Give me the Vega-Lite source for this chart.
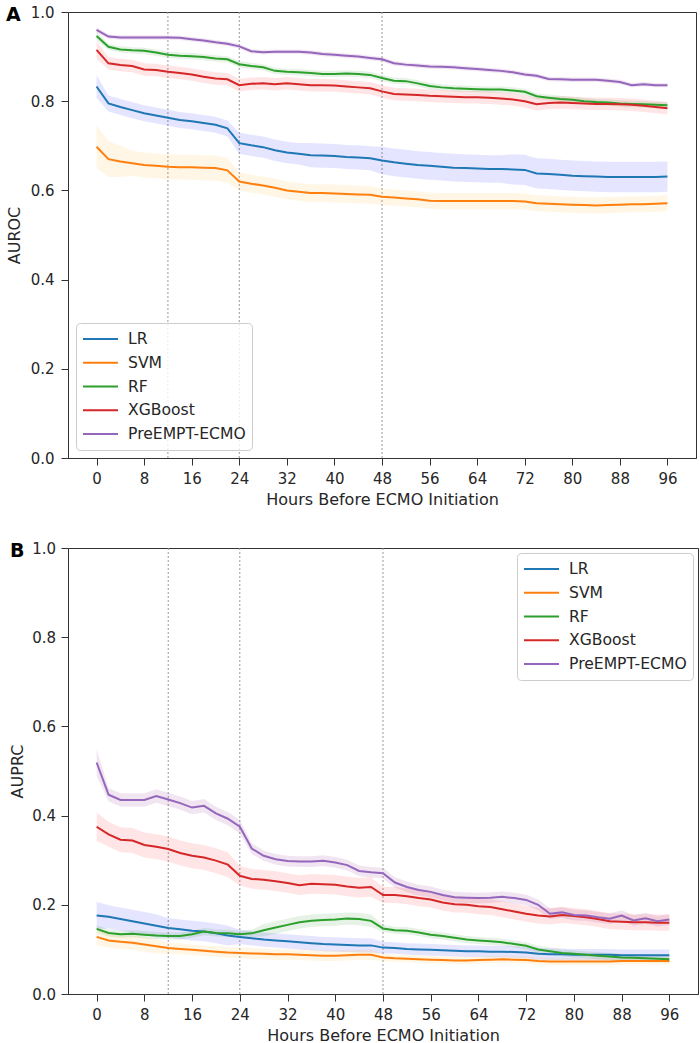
{
"$schema":"https://vega.github.io/schema/vega-lite/v6.json",
"padding":{"left":5,"top":4,"right":3,"bottom":0},
"config":{
"font":"DejaVu Sans",
"view":{"stroke":"#333333","strokeWidth":1},
"axis":{"grid":false,"domainColor":"#333333","tickColor":"#333333","tickSize":7,"tickWidth":1,"labelFontSize":15,"labelColor":"#262626","labelPadding":6,"titleFontSize":16,"titleFontWeight":"normal","titleColor":"#262626","titlePadding":5},
"legend":{"symbolType":"stroke","symbolSize":1225,"symbolStrokeWidth":2,"clipHeight":20,"labelFontSize":15.6,"labelColor":"#262626","labelOffset":9,"padding":6,"rowPadding":3.75,"cornerRadius":4,"fillColor":"rgba(255,255,255,0.8)","strokeColor":"#cccccc"}
},
"datasets":{
"A":[
{"m":"LR","h":0,"v":0.833,"e":0.025},{"m":"LR","h":2,"v":0.795,"e":0.018},{"m":"LR","h":4,"v":0.787,"e":0.018},{"m":"LR","h":6,"v":0.780,"e":0.018},{"m":"LR","h":8,"v":0.773,"e":0.018},{"m":"LR","h":10,"v":0.768,"e":0.018},{"m":"LR","h":12,"v":0.763,"e":0.018},{"m":"LR","h":14,"v":0.758,"e":0.018},{"m":"LR","h":16,"v":0.755,"e":0.018},{"m":"LR","h":18,"v":0.751,"e":0.018},{"m":"LR","h":20,"v":0.747,"e":0.018},{"m":"LR","h":22,"v":0.739,"e":0.018},{"m":"LR","h":24,"v":0.706,"e":0.024},{"m":"LR","h":26,"v":0.701,"e":0.024},{"m":"LR","h":28,"v":0.697,"e":0.024},{"m":"LR","h":30,"v":0.690,"e":0.024},{"m":"LR","h":32,"v":0.685,"e":0.024},{"m":"LR","h":34,"v":0.682,"e":0.024},{"m":"LR","h":36,"v":0.679,"e":0.027},{"m":"LR","h":38,"v":0.678,"e":0.027},{"m":"LR","h":40,"v":0.677,"e":0.027},{"m":"LR","h":42,"v":0.675,"e":0.027},{"m":"LR","h":44,"v":0.674,"e":0.027},{"m":"LR","h":46,"v":0.672,"e":0.027},{"m":"LR","h":48,"v":0.667,"e":0.031},{"m":"LR","h":50,"v":0.663,"e":0.031},{"m":"LR","h":52,"v":0.660,"e":0.031},{"m":"LR","h":54,"v":0.657,"e":0.031},{"m":"LR","h":56,"v":0.655,"e":0.031},{"m":"LR","h":58,"v":0.653,"e":0.031},{"m":"LR","h":60,"v":0.651,"e":0.031},{"m":"LR","h":62,"v":0.650,"e":0.031},{"m":"LR","h":64,"v":0.649,"e":0.031},{"m":"LR","h":66,"v":0.648,"e":0.031},{"m":"LR","h":68,"v":0.648,"e":0.031},{"m":"LR","h":70,"v":0.647,"e":0.034},{"m":"LR","h":72,"v":0.646,"e":0.034},{"m":"LR","h":74,"v":0.638,"e":0.034},{"m":"LR","h":76,"v":0.637,"e":0.034},{"m":"LR","h":78,"v":0.635,"e":0.034},{"m":"LR","h":80,"v":0.633,"e":0.034},{"m":"LR","h":82,"v":0.632,"e":0.034},{"m":"LR","h":84,"v":0.631,"e":0.034},{"m":"LR","h":86,"v":0.630,"e":0.034},{"m":"LR","h":88,"v":0.630,"e":0.034},{"m":"LR","h":90,"v":0.630,"e":0.034},{"m":"LR","h":92,"v":0.630,"e":0.034},{"m":"LR","h":94,"v":0.630,"e":0.034},{"m":"LR","h":96,"v":0.631,"e":0.034},
{"m":"SVM","h":0,"v":0.698,"e":0.048},{"m":"SVM","h":2,"v":0.670,"e":0.040},{"m":"SVM","h":4,"v":0.665,"e":0.035},{"m":"SVM","h":6,"v":0.661,"e":0.028},{"m":"SVM","h":8,"v":0.657,"e":0.028},{"m":"SVM","h":10,"v":0.655,"e":0.028},{"m":"SVM","h":12,"v":0.653,"e":0.028},{"m":"SVM","h":14,"v":0.652,"e":0.028},{"m":"SVM","h":16,"v":0.652,"e":0.028},{"m":"SVM","h":18,"v":0.651,"e":0.028},{"m":"SVM","h":20,"v":0.650,"e":0.028},{"m":"SVM","h":22,"v":0.645,"e":0.028},{"m":"SVM","h":24,"v":0.620,"e":0.020},{"m":"SVM","h":26,"v":0.615,"e":0.020},{"m":"SVM","h":28,"v":0.611,"e":0.020},{"m":"SVM","h":30,"v":0.606,"e":0.020},{"m":"SVM","h":32,"v":0.600,"e":0.020},{"m":"SVM","h":34,"v":0.597,"e":0.020},{"m":"SVM","h":36,"v":0.594,"e":0.020},{"m":"SVM","h":38,"v":0.594,"e":0.020},{"m":"SVM","h":40,"v":0.593,"e":0.020},{"m":"SVM","h":42,"v":0.592,"e":0.020},{"m":"SVM","h":44,"v":0.591,"e":0.020},{"m":"SVM","h":46,"v":0.590,"e":0.020},{"m":"SVM","h":48,"v":0.586,"e":0.018},{"m":"SVM","h":50,"v":0.584,"e":0.018},{"m":"SVM","h":52,"v":0.582,"e":0.018},{"m":"SVM","h":54,"v":0.580,"e":0.018},{"m":"SVM","h":56,"v":0.577,"e":0.018},{"m":"SVM","h":58,"v":0.576,"e":0.018},{"m":"SVM","h":60,"v":0.576,"e":0.018},{"m":"SVM","h":62,"v":0.576,"e":0.018},{"m":"SVM","h":64,"v":0.576,"e":0.018},{"m":"SVM","h":66,"v":0.576,"e":0.018},{"m":"SVM","h":68,"v":0.576,"e":0.018},{"m":"SVM","h":70,"v":0.576,"e":0.018},{"m":"SVM","h":72,"v":0.575,"e":0.018},{"m":"SVM","h":74,"v":0.571,"e":0.018},{"m":"SVM","h":76,"v":0.570,"e":0.018},{"m":"SVM","h":78,"v":0.569,"e":0.018},{"m":"SVM","h":80,"v":0.568,"e":0.018},{"m":"SVM","h":82,"v":0.567,"e":0.018},{"m":"SVM","h":84,"v":0.566,"e":0.018},{"m":"SVM","h":86,"v":0.567,"e":0.018},{"m":"SVM","h":88,"v":0.568,"e":0.018},{"m":"SVM","h":90,"v":0.569,"e":0.018},{"m":"SVM","h":92,"v":0.569,"e":0.018},{"m":"SVM","h":94,"v":0.570,"e":0.018},{"m":"SVM","h":96,"v":0.571,"e":0.018},
{"m":"RF","h":0,"v":0.946,"e":0.010},{"m":"RF","h":2,"v":0.922,"e":0.007},{"m":"RF","h":4,"v":0.916,"e":0.007},{"m":"RF","h":6,"v":0.914,"e":0.007},{"m":"RF","h":8,"v":0.913,"e":0.007},{"m":"RF","h":10,"v":0.909,"e":0.007},{"m":"RF","h":12,"v":0.904,"e":0.007},{"m":"RF","h":14,"v":0.902,"e":0.007},{"m":"RF","h":16,"v":0.901,"e":0.007},{"m":"RF","h":18,"v":0.899,"e":0.007},{"m":"RF","h":20,"v":0.896,"e":0.007},{"m":"RF","h":22,"v":0.894,"e":0.007},{"m":"RF","h":24,"v":0.883,"e":0.007},{"m":"RF","h":26,"v":0.879,"e":0.007},{"m":"RF","h":28,"v":0.876,"e":0.007},{"m":"RF","h":30,"v":0.868,"e":0.007},{"m":"RF","h":32,"v":0.866,"e":0.007},{"m":"RF","h":34,"v":0.865,"e":0.007},{"m":"RF","h":36,"v":0.863,"e":0.007},{"m":"RF","h":38,"v":0.861,"e":0.007},{"m":"RF","h":40,"v":0.861,"e":0.007},{"m":"RF","h":42,"v":0.862,"e":0.007},{"m":"RF","h":44,"v":0.861,"e":0.007},{"m":"RF","h":46,"v":0.859,"e":0.007},{"m":"RF","h":48,"v":0.852,"e":0.007},{"m":"RF","h":50,"v":0.846,"e":0.007},{"m":"RF","h":52,"v":0.845,"e":0.007},{"m":"RF","h":54,"v":0.840,"e":0.007},{"m":"RF","h":56,"v":0.834,"e":0.007},{"m":"RF","h":58,"v":0.831,"e":0.007},{"m":"RF","h":60,"v":0.829,"e":0.007},{"m":"RF","h":62,"v":0.828,"e":0.007},{"m":"RF","h":64,"v":0.827,"e":0.007},{"m":"RF","h":66,"v":0.826,"e":0.007},{"m":"RF","h":68,"v":0.826,"e":0.007},{"m":"RF","h":70,"v":0.824,"e":0.007},{"m":"RF","h":72,"v":0.821,"e":0.007},{"m":"RF","h":74,"v":0.811,"e":0.007},{"m":"RF","h":76,"v":0.808,"e":0.007},{"m":"RF","h":78,"v":0.805,"e":0.007},{"m":"RF","h":80,"v":0.803,"e":0.007},{"m":"RF","h":82,"v":0.800,"e":0.007},{"m":"RF","h":84,"v":0.798,"e":0.007},{"m":"RF","h":86,"v":0.797,"e":0.007},{"m":"RF","h":88,"v":0.795,"e":0.007},{"m":"RF","h":90,"v":0.794,"e":0.007},{"m":"RF","h":92,"v":0.793,"e":0.007},{"m":"RF","h":94,"v":0.792,"e":0.007},{"m":"RF","h":96,"v":0.791,"e":0.007},
{"m":"XGBoost","h":0,"v":0.915,"e":0.020},{"m":"XGBoost","h":2,"v":0.885,"e":0.014},{"m":"XGBoost","h":4,"v":0.881,"e":0.014},{"m":"XGBoost","h":6,"v":0.879,"e":0.014},{"m":"XGBoost","h":8,"v":0.871,"e":0.014},{"m":"XGBoost","h":10,"v":0.870,"e":0.014},{"m":"XGBoost","h":12,"v":0.866,"e":0.014},{"m":"XGBoost","h":14,"v":0.863,"e":0.014},{"m":"XGBoost","h":16,"v":0.860,"e":0.014},{"m":"XGBoost","h":18,"v":0.855,"e":0.014},{"m":"XGBoost","h":20,"v":0.851,"e":0.014},{"m":"XGBoost","h":22,"v":0.849,"e":0.014},{"m":"XGBoost","h":24,"v":0.836,"e":0.014},{"m":"XGBoost","h":26,"v":0.839,"e":0.014},{"m":"XGBoost","h":28,"v":0.840,"e":0.014},{"m":"XGBoost","h":30,"v":0.838,"e":0.014},{"m":"XGBoost","h":32,"v":0.840,"e":0.014},{"m":"XGBoost","h":34,"v":0.838,"e":0.014},{"m":"XGBoost","h":36,"v":0.836,"e":0.014},{"m":"XGBoost","h":38,"v":0.836,"e":0.014},{"m":"XGBoost","h":40,"v":0.835,"e":0.014},{"m":"XGBoost","h":42,"v":0.833,"e":0.014},{"m":"XGBoost","h":44,"v":0.831,"e":0.014},{"m":"XGBoost","h":46,"v":0.829,"e":0.014},{"m":"XGBoost","h":48,"v":0.822,"e":0.014},{"m":"XGBoost","h":50,"v":0.816,"e":0.014},{"m":"XGBoost","h":52,"v":0.815,"e":0.014},{"m":"XGBoost","h":54,"v":0.814,"e":0.014},{"m":"XGBoost","h":56,"v":0.812,"e":0.014},{"m":"XGBoost","h":58,"v":0.811,"e":0.014},{"m":"XGBoost","h":60,"v":0.810,"e":0.014},{"m":"XGBoost","h":62,"v":0.809,"e":0.014},{"m":"XGBoost","h":64,"v":0.809,"e":0.014},{"m":"XGBoost","h":66,"v":0.808,"e":0.014},{"m":"XGBoost","h":68,"v":0.806,"e":0.014},{"m":"XGBoost","h":70,"v":0.804,"e":0.014},{"m":"XGBoost","h":72,"v":0.800,"e":0.014},{"m":"XGBoost","h":74,"v":0.793,"e":0.014},{"m":"XGBoost","h":76,"v":0.796,"e":0.014},{"m":"XGBoost","h":78,"v":0.797,"e":0.014},{"m":"XGBoost","h":80,"v":0.796,"e":0.014},{"m":"XGBoost","h":82,"v":0.795,"e":0.014},{"m":"XGBoost","h":84,"v":0.794,"e":0.014},{"m":"XGBoost","h":86,"v":0.794,"e":0.014},{"m":"XGBoost","h":88,"v":0.793,"e":0.014},{"m":"XGBoost","h":90,"v":0.792,"e":0.014},{"m":"XGBoost","h":92,"v":0.790,"e":0.014},{"m":"XGBoost","h":94,"v":0.787,"e":0.014},{"m":"XGBoost","h":96,"v":0.784,"e":0.014},
{"m":"PreEMPT-ECMO","h":0,"v":0.960,"e":0.006},{"m":"PreEMPT-ECMO","h":2,"v":0.945,"e":0.005},{"m":"PreEMPT-ECMO","h":4,"v":0.943,"e":0.005},{"m":"PreEMPT-ECMO","h":6,"v":0.943,"e":0.005},{"m":"PreEMPT-ECMO","h":8,"v":0.943,"e":0.005},{"m":"PreEMPT-ECMO","h":10,"v":0.943,"e":0.005},{"m":"PreEMPT-ECMO","h":12,"v":0.943,"e":0.005},{"m":"PreEMPT-ECMO","h":14,"v":0.942,"e":0.005},{"m":"PreEMPT-ECMO","h":16,"v":0.939,"e":0.005},{"m":"PreEMPT-ECMO","h":18,"v":0.936,"e":0.005},{"m":"PreEMPT-ECMO","h":20,"v":0.932,"e":0.005},{"m":"PreEMPT-ECMO","h":22,"v":0.929,"e":0.005},{"m":"PreEMPT-ECMO","h":24,"v":0.923,"e":0.005},{"m":"PreEMPT-ECMO","h":26,"v":0.912,"e":0.005},{"m":"PreEMPT-ECMO","h":28,"v":0.910,"e":0.005},{"m":"PreEMPT-ECMO","h":30,"v":0.911,"e":0.005},{"m":"PreEMPT-ECMO","h":32,"v":0.911,"e":0.005},{"m":"PreEMPT-ECMO","h":34,"v":0.911,"e":0.005},{"m":"PreEMPT-ECMO","h":36,"v":0.909,"e":0.005},{"m":"PreEMPT-ECMO","h":38,"v":0.906,"e":0.005},{"m":"PreEMPT-ECMO","h":40,"v":0.904,"e":0.005},{"m":"PreEMPT-ECMO","h":42,"v":0.902,"e":0.005},{"m":"PreEMPT-ECMO","h":44,"v":0.900,"e":0.005},{"m":"PreEMPT-ECMO","h":46,"v":0.897,"e":0.005},{"m":"PreEMPT-ECMO","h":48,"v":0.894,"e":0.005},{"m":"PreEMPT-ECMO","h":50,"v":0.885,"e":0.005},{"m":"PreEMPT-ECMO","h":52,"v":0.882,"e":0.005},{"m":"PreEMPT-ECMO","h":54,"v":0.880,"e":0.005},{"m":"PreEMPT-ECMO","h":56,"v":0.878,"e":0.005},{"m":"PreEMPT-ECMO","h":58,"v":0.877,"e":0.005},{"m":"PreEMPT-ECMO","h":60,"v":0.876,"e":0.005},{"m":"PreEMPT-ECMO","h":62,"v":0.874,"e":0.005},{"m":"PreEMPT-ECMO","h":64,"v":0.872,"e":0.005},{"m":"PreEMPT-ECMO","h":66,"v":0.870,"e":0.005},{"m":"PreEMPT-ECMO","h":68,"v":0.868,"e":0.005},{"m":"PreEMPT-ECMO","h":70,"v":0.865,"e":0.005},{"m":"PreEMPT-ECMO","h":72,"v":0.860,"e":0.005},{"m":"PreEMPT-ECMO","h":74,"v":0.857,"e":0.005},{"m":"PreEMPT-ECMO","h":76,"v":0.850,"e":0.005},{"m":"PreEMPT-ECMO","h":78,"v":0.849,"e":0.005},{"m":"PreEMPT-ECMO","h":80,"v":0.848,"e":0.005},{"m":"PreEMPT-ECMO","h":82,"v":0.848,"e":0.005},{"m":"PreEMPT-ECMO","h":84,"v":0.848,"e":0.005},{"m":"PreEMPT-ECMO","h":86,"v":0.846,"e":0.005},{"m":"PreEMPT-ECMO","h":88,"v":0.843,"e":0.005},{"m":"PreEMPT-ECMO","h":90,"v":0.836,"e":0.005},{"m":"PreEMPT-ECMO","h":92,"v":0.838,"e":0.005},{"m":"PreEMPT-ECMO","h":94,"v":0.836,"e":0.005},{"m":"PreEMPT-ECMO","h":96,"v":0.836,"e":0.005}
],
"B":[
{"m":"LR","h":0,"v":0.176,"e":0.030},{"m":"LR","h":2,"v":0.173,"e":0.026},{"m":"LR","h":4,"v":0.168,"e":0.026},{"m":"LR","h":6,"v":0.163,"e":0.026},{"m":"LR","h":8,"v":0.158,"e":0.026},{"m":"LR","h":10,"v":0.153,"e":0.026},{"m":"LR","h":12,"v":0.148,"e":0.022},{"m":"LR","h":14,"v":0.145,"e":0.022},{"m":"LR","h":16,"v":0.142,"e":0.022},{"m":"LR","h":18,"v":0.140,"e":0.022},{"m":"LR","h":20,"v":0.136,"e":0.022},{"m":"LR","h":22,"v":0.131,"e":0.022},{"m":"LR","h":24,"v":0.128,"e":0.016},{"m":"LR","h":26,"v":0.125,"e":0.016},{"m":"LR","h":28,"v":0.122,"e":0.016},{"m":"LR","h":30,"v":0.120,"e":0.016},{"m":"LR","h":32,"v":0.118,"e":0.016},{"m":"LR","h":34,"v":0.116,"e":0.016},{"m":"LR","h":36,"v":0.114,"e":0.016},{"m":"LR","h":38,"v":0.112,"e":0.016},{"m":"LR","h":40,"v":0.111,"e":0.016},{"m":"LR","h":42,"v":0.110,"e":0.016},{"m":"LR","h":44,"v":0.109,"e":0.016},{"m":"LR","h":46,"v":0.109,"e":0.016},{"m":"LR","h":48,"v":0.104,"e":0.013},{"m":"LR","h":50,"v":0.103,"e":0.013},{"m":"LR","h":52,"v":0.101,"e":0.013},{"m":"LR","h":54,"v":0.100,"e":0.013},{"m":"LR","h":56,"v":0.099,"e":0.013},{"m":"LR","h":58,"v":0.098,"e":0.013},{"m":"LR","h":60,"v":0.097,"e":0.013},{"m":"LR","h":62,"v":0.096,"e":0.013},{"m":"LR","h":64,"v":0.096,"e":0.013},{"m":"LR","h":66,"v":0.095,"e":0.013},{"m":"LR","h":68,"v":0.095,"e":0.013},{"m":"LR","h":70,"v":0.094,"e":0.013},{"m":"LR","h":72,"v":0.093,"e":0.013},{"m":"LR","h":74,"v":0.090,"e":0.013},{"m":"LR","h":76,"v":0.089,"e":0.013},{"m":"LR","h":78,"v":0.089,"e":0.013},{"m":"LR","h":80,"v":0.088,"e":0.013},{"m":"LR","h":82,"v":0.088,"e":0.013},{"m":"LR","h":84,"v":0.088,"e":0.013},{"m":"LR","h":86,"v":0.088,"e":0.013},{"m":"LR","h":88,"v":0.087,"e":0.013},{"m":"LR","h":90,"v":0.087,"e":0.013},{"m":"LR","h":92,"v":0.087,"e":0.013},{"m":"LR","h":94,"v":0.087,"e":0.013},{"m":"LR","h":96,"v":0.087,"e":0.013},
{"m":"SVM","h":0,"v":0.128,"e":0.020},{"m":"SVM","h":2,"v":0.120,"e":0.016},{"m":"SVM","h":4,"v":0.117,"e":0.016},{"m":"SVM","h":6,"v":0.115,"e":0.016},{"m":"SVM","h":8,"v":0.111,"e":0.016},{"m":"SVM","h":10,"v":0.107,"e":0.016},{"m":"SVM","h":12,"v":0.103,"e":0.012},{"m":"SVM","h":14,"v":0.101,"e":0.012},{"m":"SVM","h":16,"v":0.099,"e":0.012},{"m":"SVM","h":18,"v":0.097,"e":0.012},{"m":"SVM","h":20,"v":0.095,"e":0.012},{"m":"SVM","h":22,"v":0.093,"e":0.012},{"m":"SVM","h":24,"v":0.092,"e":0.012},{"m":"SVM","h":26,"v":0.091,"e":0.012},{"m":"SVM","h":28,"v":0.090,"e":0.012},{"m":"SVM","h":30,"v":0.089,"e":0.012},{"m":"SVM","h":32,"v":0.089,"e":0.012},{"m":"SVM","h":34,"v":0.088,"e":0.012},{"m":"SVM","h":36,"v":0.087,"e":0.012},{"m":"SVM","h":38,"v":0.086,"e":0.012},{"m":"SVM","h":40,"v":0.086,"e":0.012},{"m":"SVM","h":42,"v":0.087,"e":0.012},{"m":"SVM","h":44,"v":0.088,"e":0.012},{"m":"SVM","h":46,"v":0.088,"e":0.012},{"m":"SVM","h":48,"v":0.082,"e":0.008},{"m":"SVM","h":50,"v":0.080,"e":0.008},{"m":"SVM","h":52,"v":0.079,"e":0.008},{"m":"SVM","h":54,"v":0.078,"e":0.008},{"m":"SVM","h":56,"v":0.077,"e":0.008},{"m":"SVM","h":58,"v":0.076,"e":0.008},{"m":"SVM","h":60,"v":0.075,"e":0.008},{"m":"SVM","h":62,"v":0.075,"e":0.008},{"m":"SVM","h":64,"v":0.076,"e":0.008},{"m":"SVM","h":66,"v":0.077,"e":0.008},{"m":"SVM","h":68,"v":0.078,"e":0.008},{"m":"SVM","h":70,"v":0.077,"e":0.008},{"m":"SVM","h":72,"v":0.076,"e":0.008},{"m":"SVM","h":74,"v":0.074,"e":0.008},{"m":"SVM","h":76,"v":0.073,"e":0.008},{"m":"SVM","h":78,"v":0.073,"e":0.008},{"m":"SVM","h":80,"v":0.073,"e":0.008},{"m":"SVM","h":82,"v":0.073,"e":0.008},{"m":"SVM","h":84,"v":0.073,"e":0.008},{"m":"SVM","h":86,"v":0.073,"e":0.008},{"m":"SVM","h":88,"v":0.074,"e":0.008},{"m":"SVM","h":90,"v":0.074,"e":0.008},{"m":"SVM","h":92,"v":0.074,"e":0.008},{"m":"SVM","h":94,"v":0.074,"e":0.008},{"m":"SVM","h":96,"v":0.074,"e":0.008},
{"m":"RF","h":0,"v":0.146,"e":0.008},{"m":"RF","h":2,"v":0.137,"e":0.008},{"m":"RF","h":4,"v":0.134,"e":0.008},{"m":"RF","h":6,"v":0.135,"e":0.008},{"m":"RF","h":8,"v":0.133,"e":0.008},{"m":"RF","h":10,"v":0.131,"e":0.008},{"m":"RF","h":12,"v":0.130,"e":0.008},{"m":"RF","h":14,"v":0.130,"e":0.008},{"m":"RF","h":16,"v":0.134,"e":0.008},{"m":"RF","h":18,"v":0.140,"e":0.008},{"m":"RF","h":20,"v":0.137,"e":0.008},{"m":"RF","h":22,"v":0.136,"e":0.008},{"m":"RF","h":24,"v":0.134,"e":0.008},{"m":"RF","h":26,"v":0.136,"e":0.008},{"m":"RF","h":28,"v":0.143,"e":0.014},{"m":"RF","h":30,"v":0.149,"e":0.014},{"m":"RF","h":32,"v":0.155,"e":0.014},{"m":"RF","h":34,"v":0.161,"e":0.014},{"m":"RF","h":36,"v":0.164,"e":0.014},{"m":"RF","h":38,"v":0.166,"e":0.014},{"m":"RF","h":40,"v":0.167,"e":0.014},{"m":"RF","h":42,"v":0.169,"e":0.014},{"m":"RF","h":44,"v":0.168,"e":0.014},{"m":"RF","h":46,"v":0.164,"e":0.014},{"m":"RF","h":48,"v":0.147,"e":0.008},{"m":"RF","h":50,"v":0.143,"e":0.008},{"m":"RF","h":52,"v":0.142,"e":0.008},{"m":"RF","h":54,"v":0.138,"e":0.008},{"m":"RF","h":56,"v":0.133,"e":0.008},{"m":"RF","h":58,"v":0.130,"e":0.008},{"m":"RF","h":60,"v":0.126,"e":0.008},{"m":"RF","h":62,"v":0.122,"e":0.008},{"m":"RF","h":64,"v":0.120,"e":0.008},{"m":"RF","h":66,"v":0.118,"e":0.008},{"m":"RF","h":68,"v":0.116,"e":0.008},{"m":"RF","h":70,"v":0.112,"e":0.008},{"m":"RF","h":72,"v":0.108,"e":0.008},{"m":"RF","h":74,"v":0.100,"e":0.008},{"m":"RF","h":76,"v":0.096,"e":0.008},{"m":"RF","h":78,"v":0.092,"e":0.008},{"m":"RF","h":80,"v":0.090,"e":0.008},{"m":"RF","h":82,"v":0.088,"e":0.008},{"m":"RF","h":84,"v":0.086,"e":0.008},{"m":"RF","h":86,"v":0.084,"e":0.008},{"m":"RF","h":88,"v":0.082,"e":0.008},{"m":"RF","h":90,"v":0.081,"e":0.008},{"m":"RF","h":92,"v":0.080,"e":0.008},{"m":"RF","h":94,"v":0.079,"e":0.008},{"m":"RF","h":96,"v":0.078,"e":0.008},
{"m":"XGBoost","h":0,"v":0.375,"e":0.032},{"m":"XGBoost","h":2,"v":0.358,"e":0.028},{"m":"XGBoost","h":4,"v":0.346,"e":0.028},{"m":"XGBoost","h":6,"v":0.344,"e":0.028},{"m":"XGBoost","h":8,"v":0.334,"e":0.028},{"m":"XGBoost","h":10,"v":0.330,"e":0.028},{"m":"XGBoost","h":12,"v":0.325,"e":0.028},{"m":"XGBoost","h":14,"v":0.316,"e":0.028},{"m":"XGBoost","h":16,"v":0.310,"e":0.028},{"m":"XGBoost","h":18,"v":0.306,"e":0.028},{"m":"XGBoost","h":20,"v":0.299,"e":0.028},{"m":"XGBoost","h":22,"v":0.290,"e":0.028},{"m":"XGBoost","h":24,"v":0.265,"e":0.022},{"m":"XGBoost","h":26,"v":0.258,"e":0.022},{"m":"XGBoost","h":28,"v":0.256,"e":0.022},{"m":"XGBoost","h":30,"v":0.253,"e":0.022},{"m":"XGBoost","h":32,"v":0.249,"e":0.022},{"m":"XGBoost","h":34,"v":0.244,"e":0.022},{"m":"XGBoost","h":36,"v":0.247,"e":0.022},{"m":"XGBoost","h":38,"v":0.246,"e":0.022},{"m":"XGBoost","h":40,"v":0.245,"e":0.022},{"m":"XGBoost","h":42,"v":0.241,"e":0.022},{"m":"XGBoost","h":44,"v":0.238,"e":0.022},{"m":"XGBoost","h":46,"v":0.240,"e":0.022},{"m":"XGBoost","h":48,"v":0.222,"e":0.018},{"m":"XGBoost","h":50,"v":0.222,"e":0.018},{"m":"XGBoost","h":52,"v":0.219,"e":0.018},{"m":"XGBoost","h":54,"v":0.215,"e":0.018},{"m":"XGBoost","h":56,"v":0.212,"e":0.018},{"m":"XGBoost","h":58,"v":0.205,"e":0.018},{"m":"XGBoost","h":60,"v":0.201,"e":0.018},{"m":"XGBoost","h":62,"v":0.200,"e":0.018},{"m":"XGBoost","h":64,"v":0.197,"e":0.018},{"m":"XGBoost","h":66,"v":0.195,"e":0.018},{"m":"XGBoost","h":68,"v":0.190,"e":0.018},{"m":"XGBoost","h":70,"v":0.185,"e":0.018},{"m":"XGBoost","h":72,"v":0.180,"e":0.018},{"m":"XGBoost","h":74,"v":0.176,"e":0.018},{"m":"XGBoost","h":76,"v":0.174,"e":0.018},{"m":"XGBoost","h":78,"v":0.177,"e":0.018},{"m":"XGBoost","h":80,"v":0.175,"e":0.018},{"m":"XGBoost","h":82,"v":0.172,"e":0.018},{"m":"XGBoost","h":84,"v":0.168,"e":0.018},{"m":"XGBoost","h":86,"v":0.163,"e":0.018},{"m":"XGBoost","h":88,"v":0.162,"e":0.018},{"m":"XGBoost","h":90,"v":0.161,"e":0.018},{"m":"XGBoost","h":92,"v":0.161,"e":0.018},{"m":"XGBoost","h":94,"v":0.160,"e":0.018},{"m":"XGBoost","h":96,"v":0.160,"e":0.018},
{"m":"PreEMPT-ECMO","h":0,"v":0.519,"e":0.030},{"m":"PreEMPT-ECMO","h":2,"v":0.447,"e":0.015},{"m":"PreEMPT-ECMO","h":4,"v":0.435,"e":0.015},{"m":"PreEMPT-ECMO","h":6,"v":0.435,"e":0.015},{"m":"PreEMPT-ECMO","h":8,"v":0.435,"e":0.015},{"m":"PreEMPT-ECMO","h":10,"v":0.444,"e":0.015},{"m":"PreEMPT-ECMO","h":12,"v":0.436,"e":0.015},{"m":"PreEMPT-ECMO","h":14,"v":0.428,"e":0.015},{"m":"PreEMPT-ECMO","h":16,"v":0.418,"e":0.015},{"m":"PreEMPT-ECMO","h":18,"v":0.422,"e":0.015},{"m":"PreEMPT-ECMO","h":20,"v":0.405,"e":0.015},{"m":"PreEMPT-ECMO","h":22,"v":0.393,"e":0.015},{"m":"PreEMPT-ECMO","h":24,"v":0.375,"e":0.015},{"m":"PreEMPT-ECMO","h":26,"v":0.326,"e":0.012},{"m":"PreEMPT-ECMO","h":28,"v":0.310,"e":0.012},{"m":"PreEMPT-ECMO","h":30,"v":0.302,"e":0.012},{"m":"PreEMPT-ECMO","h":32,"v":0.298,"e":0.012},{"m":"PreEMPT-ECMO","h":34,"v":0.297,"e":0.012},{"m":"PreEMPT-ECMO","h":36,"v":0.297,"e":0.012},{"m":"PreEMPT-ECMO","h":38,"v":0.299,"e":0.012},{"m":"PreEMPT-ECMO","h":40,"v":0.295,"e":0.012},{"m":"PreEMPT-ECMO","h":42,"v":0.289,"e":0.012},{"m":"PreEMPT-ECMO","h":44,"v":0.276,"e":0.012},{"m":"PreEMPT-ECMO","h":46,"v":0.273,"e":0.012},{"m":"PreEMPT-ECMO","h":48,"v":0.271,"e":0.012},{"m":"PreEMPT-ECMO","h":50,"v":0.250,"e":0.012},{"m":"PreEMPT-ECMO","h":52,"v":0.240,"e":0.012},{"m":"PreEMPT-ECMO","h":54,"v":0.233,"e":0.012},{"m":"PreEMPT-ECMO","h":56,"v":0.229,"e":0.012},{"m":"PreEMPT-ECMO","h":58,"v":0.222,"e":0.012},{"m":"PreEMPT-ECMO","h":60,"v":0.217,"e":0.012},{"m":"PreEMPT-ECMO","h":62,"v":0.216,"e":0.012},{"m":"PreEMPT-ECMO","h":64,"v":0.215,"e":0.012},{"m":"PreEMPT-ECMO","h":66,"v":0.216,"e":0.012},{"m":"PreEMPT-ECMO","h":68,"v":0.218,"e":0.012},{"m":"PreEMPT-ECMO","h":70,"v":0.215,"e":0.012},{"m":"PreEMPT-ECMO","h":72,"v":0.211,"e":0.012},{"m":"PreEMPT-ECMO","h":74,"v":0.200,"e":0.012},{"m":"PreEMPT-ECMO","h":76,"v":0.180,"e":0.012},{"m":"PreEMPT-ECMO","h":78,"v":0.183,"e":0.012},{"m":"PreEMPT-ECMO","h":80,"v":0.177,"e":0.012},{"m":"PreEMPT-ECMO","h":82,"v":0.176,"e":0.012},{"m":"PreEMPT-ECMO","h":84,"v":0.172,"e":0.012},{"m":"PreEMPT-ECMO","h":86,"v":0.169,"e":0.012},{"m":"PreEMPT-ECMO","h":88,"v":0.176,"e":0.012},{"m":"PreEMPT-ECMO","h":90,"v":0.165,"e":0.012},{"m":"PreEMPT-ECMO","h":92,"v":0.170,"e":0.012},{"m":"PreEMPT-ECMO","h":94,"v":0.163,"e":0.012},{"m":"PreEMPT-ECMO","h":96,"v":0.167,"e":0.012}
]
},
"columns":1,
"align":"none",
"bounds":"full",
"spacing":32,
"resolve":{"scale":{"color":"independent"},"legend":{"color":"independent"}},
"concat":[
{
"width":628,"height":446,
"title":{"text":"A","anchor":"start","frame":"group","orient":"top","fontSize":19,"fontWeight":"bold","color":"#000000","dx":-62,"offset":-20},
"data":{"name":"A"},
"layer":[
{"data":{"values":[{"h":12},{"h":24},{"h":48}]},"mark":{"type":"rule","color":"#999999","strokeWidth":1,"strokeDash":[2,2]},
"encoding":{"x":{"field":"h","type":"quantitative","scale":{"domain":[-4.8,100.8],"nice":false,"zero":false},"axis":{"values":[0,8,16,24,32,40,48,56,64,72,80,88,96],"title":"Hours Before ECMO Initiation","labelFlush":false}}}},
{"mark":{"type":"errorband","band":{"opacity":0.1}},
"encoding":{"x":{"field":"h","type":"quantitative","scale":{"domain":[-4.8,100.8],"nice":false,"zero":false},"axis":{"values":[0,8,16,24,32,40,48,56,64,72,80,88,96],"title":"Hours Before ECMO Initiation","labelFlush":false}},
"y":{"field":"v","type":"quantitative","scale":{"domain":[0,1],"nice":false},"axis":{"values":[0,0.2,0.4,0.6,0.8,1],"format":".1f","title":"AUROC","labelPadding":7,"titlePadding":7.5}},
"yError":{"field":"e"},
"color":{"field":"m","type":"nominal","scale":{"domain":["LR","SVM","RF","XGBoost","PreEMPT-ECMO"],"range":["#0000ff","#ffa500","#008000","#ff0000","#800080"]},"legend":null}}},
{"mark":{"type":"line","strokeWidth":2},
"encoding":{"x":{"field":"h","type":"quantitative","scale":{"domain":[-4.8,100.8],"nice":false,"zero":false},"axis":{"values":[0,8,16,24,32,40,48,56,64,72,80,88,96],"title":"Hours Before ECMO Initiation","labelFlush":false}},
"y":{"field":"v","type":"quantitative","scale":{"domain":[0,1],"nice":false},"axis":{"values":[0,0.2,0.4,0.6,0.8,1],"format":".1f","title":"AUROC","labelPadding":7,"titlePadding":7.5}},
"color":{"field":"m","type":"nominal","scale":{"domain":["LR","SVM","RF","XGBoost","PreEMPT-ECMO"],"range":["#1f77b4","#ff7f0e","#2ca02c","#d62728","#9467bd"]},"legend":{"title":null,"orient":"bottom-left","offset":8}}}}
],
"resolve":{"scale":{"color":"independent"},"legend":{"color":"independent"}}
},
{
"width":630,"height":446,
"title":{"text":"B","anchor":"start","frame":"group","orient":"top","fontSize":19,"fontWeight":"bold","color":"#000000","dx":-58,"offset":-20},
"data":{"name":"B"},
"layer":[
{"data":{"values":[{"h":12},{"h":24},{"h":48}]},"mark":{"type":"rule","color":"#999999","strokeWidth":1,"strokeDash":[2,2]},
"encoding":{"x":{"field":"h","type":"quantitative","scale":{"domain":[-4.8,100.8],"nice":false,"zero":false},"axis":{"values":[0,8,16,24,32,40,48,56,64,72,80,88,96],"title":"Hours Before ECMO Initiation","labelFlush":false}}}},
{"mark":{"type":"errorband","band":{"opacity":0.1}},
"encoding":{"x":{"field":"h","type":"quantitative","scale":{"domain":[-4.8,100.8],"nice":false,"zero":false},"axis":{"values":[0,8,16,24,32,40,48,56,64,72,80,88,96],"title":"Hours Before ECMO Initiation","labelFlush":false}},
"y":{"field":"v","type":"quantitative","scale":{"domain":[0,1],"nice":false},"axis":{"values":[0,0.2,0.4,0.6,0.8,1],"format":".1f","title":"AUPRC","labelPadding":5.5,"titlePadding":6}},
"yError":{"field":"e"},
"color":{"field":"m","type":"nominal","scale":{"domain":["LR","SVM","RF","XGBoost","PreEMPT-ECMO"],"range":["#0000ff","#ffa500","#008000","#ff0000","#800080"]},"legend":null}}},
{"mark":{"type":"line","strokeWidth":2},
"encoding":{"x":{"field":"h","type":"quantitative","scale":{"domain":[-4.8,100.8],"nice":false,"zero":false},"axis":{"values":[0,8,16,24,32,40,48,56,64,72,80,88,96],"title":"Hours Before ECMO Initiation","labelFlush":false}},
"y":{"field":"v","type":"quantitative","scale":{"domain":[0,1],"nice":false},"axis":{"values":[0,0.2,0.4,0.6,0.8,1],"format":".1f","title":"AUPRC","labelPadding":5.5,"titlePadding":6}},
"color":{"field":"m","type":"nominal","scale":{"domain":["LR","SVM","RF","XGBoost","PreEMPT-ECMO"],"range":["#1f77b4","#ff7f0e","#2ca02c","#d62728","#9467bd"]},"legend":{"title":null,"orient":"top-right","offset":5}}}}
],
"resolve":{"scale":{"color":"independent"},"legend":{"color":"independent"}}
}
]
}
